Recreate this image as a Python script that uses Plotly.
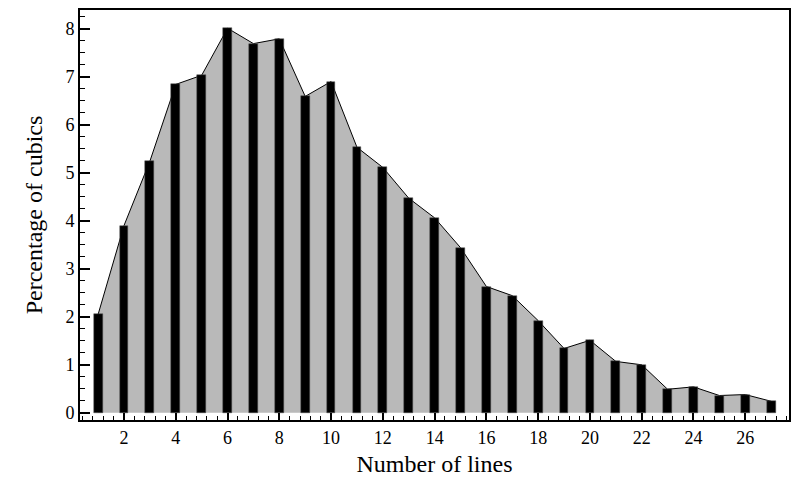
import plotly.graph_objects as go

lines = list(range(1, 28))
pct = [2.05, 3.90, 5.24, 6.84, 7.03, 8.01, 7.69, 7.79, 6.59, 6.90,
       5.53, 5.11, 4.47, 4.06, 3.44, 2.63, 2.44, 1.92, 1.34, 1.51,
       1.07, 1.00, 0.49, 0.54, 0.36, 0.38, 0.24]
x_ticks = [2, 4, 6, 8, 10, 12, 14, 16, 18, 20, 22, 24, 26]
y_ticks = [0, 1, 2, 3, 4, 5, 6, 7, 8]

XR = [0.3, 27.69]
YR = [-0.15, 8.39]

fig = go.Figure()
fig.add_trace(go.Scatter(
    x=lines, y=pct, mode="lines", fill="tozeroy",
    fillcolor="#b9b9b9", line=dict(color="black", width=1),
    showlegend=False, xaxis="x", yaxis="y"))
fig.add_trace(go.Bar(
    x=lines, y=pct, width=0.34,
    marker=dict(color="black", line=dict(color="#555555", width=0.5)),
    showlegend=False, xaxis="x2", yaxis="y2"))

font = "Liberation Serif"
fig.update_layout(
    width=792, height=492,
    margin=dict(l=72, r=11, t=2, b=80),
    paper_bgcolor="white", plot_bgcolor="white",
    font=dict(family=font, color="black"),
    bargap=0,
    xaxis=dict(
        range=XR, tickmode="array", tickvals=x_ticks, automargin=False,
        ticks="inside", ticklen=7, tickwidth=1.5, tickcolor="black",
        minor=dict(dtick=0.4, tick0=0, ticks="inside", ticklen=4, tickwidth=1, tickcolor="black"),
        showline=True, linecolor="black", linewidth=2, mirror=True,
        showgrid=False, zeroline=False,
        tickfont=dict(size=18, family=font),
        title=dict(text="Number of lines", font=dict(size=24, family=font), standoff=9),
    ),
    yaxis=dict(
        range=YR, tickmode="array", tickvals=y_ticks, automargin=False,
        ticks="inside", ticklen=10, tickwidth=1.5, tickcolor="black",
        minor=dict(dtick=0.25, tick0=0, ticks="inside", ticklen=5, tickwidth=1, tickcolor="black"),
        showline=True, linecolor="black", linewidth=2, mirror=True,
        showgrid=False, zeroline=False,
        tickfont=dict(size=18, family=font),
        title=dict(text="Percentage of cubics", font=dict(size=24, family=font), standoff=16),
    ),
    xaxis2=dict(range=XR, overlaying="x", visible=False, showgrid=False, zeroline=False),
    yaxis2=dict(range=YR, overlaying="y", visible=False, showgrid=False, zeroline=False),
)

fig.write_html("out.html")
